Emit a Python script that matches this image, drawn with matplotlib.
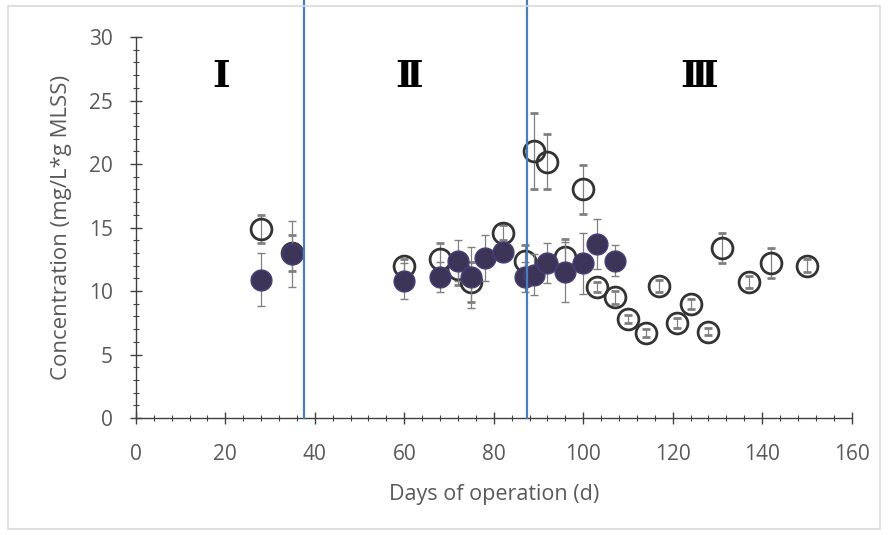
import matplotlib
matplotlib.use("Agg")
import matplotlib.pyplot as plt
from matplotlib.patches import Rectangle
from matplotlib.ticker import MultipleLocator

# open circles
open_days = [28, 35, 60, 68, 72, 75, 82, 87, 89, 92, 96, 100, 103, 107,
             110, 114, 117, 121, 124, 128, 131, 137, 142, 150]
open_vals = [14.9, 13.0, 12.0, 12.5, 11.7, 10.7, 14.6, 12.4, 21.0, 20.2, 12.7, 18.0, 10.3, 9.5,
             7.8, 6.7, 10.4, 7.5, 9.0, 6.8, 13.4, 10.7, 12.2, 12.0]
open_err = [1.1, 1.4, 0.5, 1.3, 1.2, 1.6, 0.6, 1.2, 3.0, 2.2, 1.4, 1.9, 0.4, 0.5,
            0.3, 0.3, 0.5, 0.4, 0.4, 0.3, 1.2, 0.5, 1.2, 0.5]

# filled circles
filled_days = [28, 35, 60, 68, 72, 75, 78, 82, 87, 89, 92, 96, 100, 103, 107]
filled_vals = [10.9, 12.9, 10.8, 11.1, 12.4, 11.1, 12.6, 13.1, 11.1, 11.3, 12.2, 11.5, 12.2, 13.7, 12.4]
filled_err = [2.1, 2.6, 1.4, 1.2, 1.6, 2.4, 1.8, 0.5, 1.2, 1.6, 1.6, 2.4, 2.4, 2.0, 1.2]

phase_bounds = [37.5, 87.5]
phase_labels = ["Ⅰ", "Ⅱ", "Ⅲ"]
phase_label_x = [19, 61, 126]

GRAY = "#595959"
FONT = ["Open Sans", "DejaVu Sans"]

fig = plt.figure(figsize=(8.88, 5.35), dpi=100)
fig.patches.append(Rectangle((0.009, 0.012), 0.982, 0.976, transform=fig.transFigure,
                             fill=False, edgecolor="#d9d9d9", lw=1.2))
ax = fig.add_axes([0.153, 0.2187, 0.806, 0.712])

ax.errorbar(open_days, open_vals, yerr=open_err, fmt="o", ms=15, mfc="none",
            mec="#333333", mew=2.0, ecolor="#808080", elinewidth=0.9,
            capsize=3, capthick=0.9, zorder=3)
ax.errorbar(filled_days, filled_vals, yerr=filled_err, fmt="o", ms=15,
            mfc="#3d3558", mec="#4a3f78", mew=1.0, ecolor="#808080",
            elinewidth=0.9, capsize=3, capthick=0.9, zorder=4)

for xb in phase_bounds:
    ax.plot([xb, xb], [0, 33.0], color="#4a7ebb", lw=1.6, clip_on=False, zorder=5)

for xl, lab in zip(phase_label_x, phase_labels):
    ax.text(xl, 26.9, lab, ha="center", va="center", fontsize=27,
            fontweight="bold", family=["DejaVu Serif", "DejaVu Sans"], color="black")

ax.set_xlim(0, 160)
ax.set_ylim(0, 30)
ax.xaxis.set_major_locator(MultipleLocator(20))
ax.xaxis.set_minor_locator(MultipleLocator(4))
ax.yaxis.set_major_locator(MultipleLocator(5))
ax.yaxis.set_minor_locator(MultipleLocator(1))

for s in ["top", "right"]:
    ax.spines[s].set_visible(False)
for s in ["left", "bottom"]:
    ax.spines[s].set_color("#404040")
    ax.spines[s].set_linewidth(1.0)

ax.tick_params(which="major", direction="inout", length=9, width=1.0,
               color="#404040", labelcolor=GRAY, labelsize=15)
ax.tick_params(axis="x", which="major", pad=14)
ax.tick_params(axis="y", which="major", pad=12)
ax.tick_params(which="minor", direction="inout", length=5, width=0.8, color="#404040")
for lbl in ax.get_xticklabels() + ax.get_yticklabels():
    lbl.set_family(FONT)

ax.set_xlabel("Days of operation (d)", fontsize=15.5, color=GRAY, family=FONT, labelpad=14)
ax.set_ylabel("Concentration (mg/L*g MLSS)", fontsize=16, color=GRAY, family=FONT, labelpad=12)

fig.savefig("out.png", dpi=100)
